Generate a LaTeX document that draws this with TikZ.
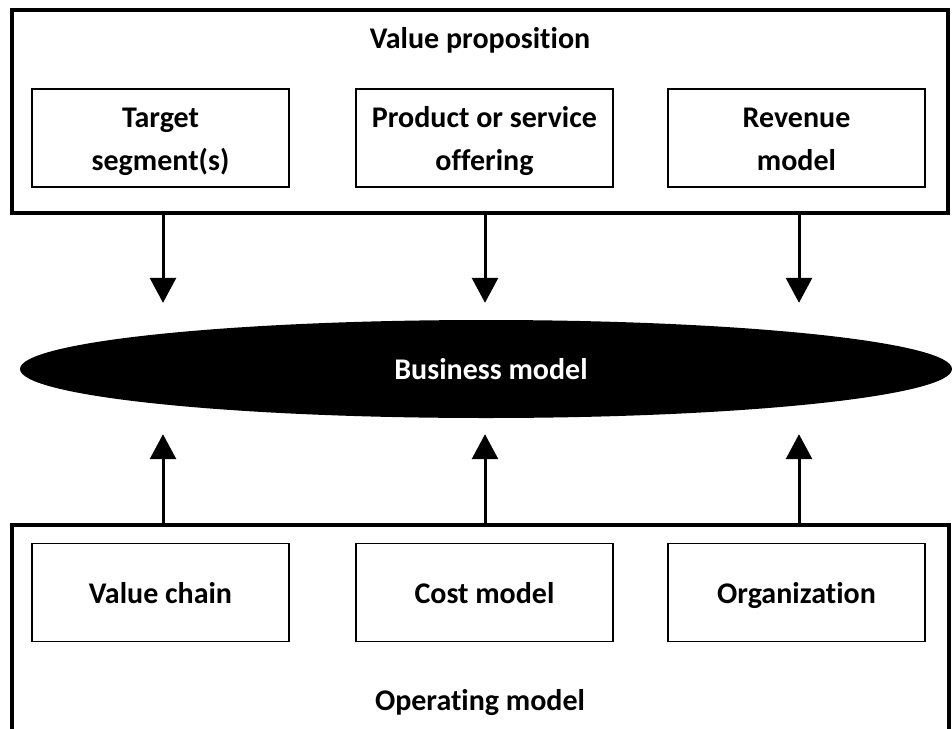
\documentclass[tikz,border=0pt]{standalone}
\usepackage{fontspec}
\setmainfont{Carlito}[Ligatures=NoCommon]
\usetikzlibrary{arrows.meta,shapes.geometric}
\begin{document}
\begin{tikzpicture}[x=1pt,y=-1pt,
  every node/.style={font=\fontsize{30}{43}\selectfont\bfseries, align=center},
  outerbox/.style={draw, line width=4pt, inner sep=0pt},
  innerbox/.style={draw, line width=1.2pt, minimum width=257pt, minimum height=98pt, inner sep=0pt},
  oneline/.style={text height=21pt, text depth=0pt},
  twoline/.style={text height=64pt, text depth=0pt},
  bmshape/.style={ellipse, fill=black, text=white, minimum width=932pt, minimum height=98pt, inner sep=0pt},
  arr/.style={line width=3pt, -{Triangle[length=25pt,width=26pt]}},
  lbl/.style={inner sep=0pt, anchor=base}]
\useasboundingbox (0,0) rectangle (952,728);
% outer boxes
\node[outerbox, minimum width=936pt, minimum height=203pt] (vp) at (480,111.5) {};
\node[outerbox, minimum width=937pt, minimum height=207pt] (om) at (480.5,628.5) {};
\node[lbl] (vpl) at (480,48) {Value proposition};
\node[lbl] (oml) at (480,710) {Operating model};
% inner boxes top
\node[innerbox, twoline] (t1) at (160.5,138) {Target\\segment(s)};
\node[innerbox, twoline] (t2) at (484.5,138) {Product or service\\offering};
\node[innerbox, twoline] (t3) at (796.5,138) {Revenue\\model};
% inner boxes bottom
\node[innerbox, oneline] (b1) at (160.5,592.5) {Value chain};
\node[innerbox, oneline] (b2) at (484.5,592.5) {Cost model};
\node[innerbox, oneline] (b3) at (796.5,592.5) {Organization};
% ellipse
\node[bmshape, oneline] (bm) at (486,369) {\hspace*{10pt}Business model};
% arrows
\coordinate (a1) at (163,0);
\coordinate (a2) at (485,0);
\coordinate (a3) at (799,0);
\draw[arr, shorten >=17pt] (a1 |- vp.south) -- (a1 |- bm.north);
\draw[arr, shorten >=17pt] (a2 |- vp.south) -- (a2 |- bm.north);
\draw[arr, shorten >=17pt] (a3 |- vp.south) -- (a3 |- bm.north);
\draw[arr, shorten >=16pt] (a1 |- om.north) -- (a1 |- bm.south);
\draw[arr, shorten >=16pt] (a2 |- om.north) -- (a2 |- bm.south);
\draw[arr, shorten >=16pt] (a3 |- om.north) -- (a3 |- bm.south);
\end{tikzpicture}
\end{document}
